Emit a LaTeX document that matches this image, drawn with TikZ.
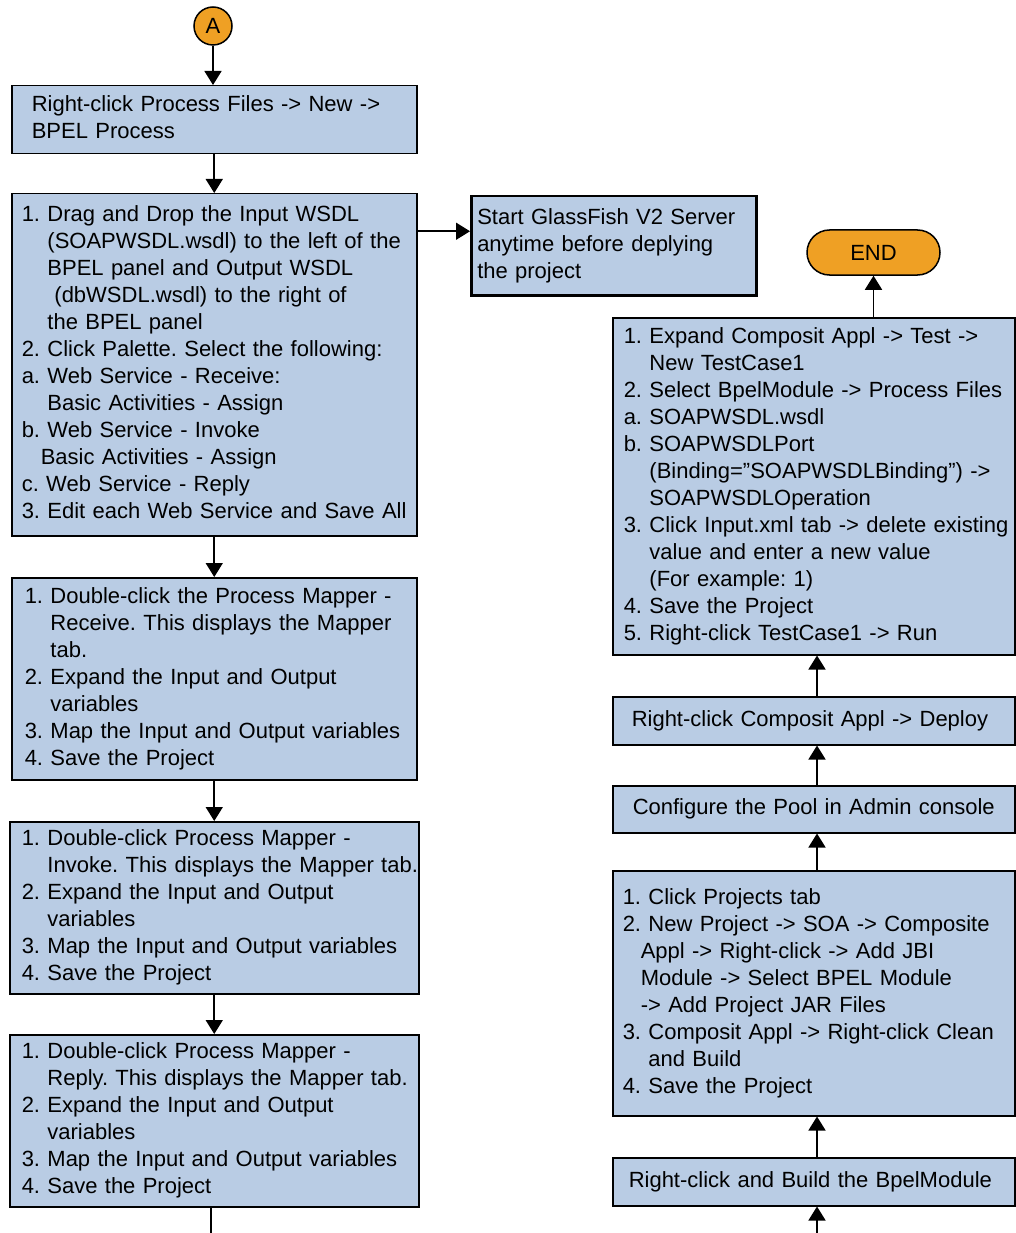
\documentclass[tikz,border=0pt]{standalone}
\usepackage{fontspec}
\setmainfont{Liberation Sans}
\usetikzlibrary{arrows.meta,positioning}
\definecolor{stepblue}{RGB}{185,204,228}
\definecolor{endorange}{RGB}{239,160,36}
% one line per row, rows never wrap
\newcommand{\steplines}[1]{\begin{tabular}{@{}l@{}}#1\end{tabular}}
\newcommand{\ind}{\phantom{1. }}
\frenchspacing

\begin{document}
\begin{tikzpicture}[x=1pt,y=-1pt,
  every node/.style={font=\fontsize{22}{27}\selectfont},
  stepbox/.style={draw,line width=1.5pt,fill=stepblue,anchor=north west,align=left,inner ysep=0pt},
  flow/.style={line width=1.6pt,-{Triangle[length=14pt,width=17pt]}},
  terminal/.style={draw,line width=1.5pt,fill=endorange,inner sep=0pt}]

\useasboundingbox (0,0) rectangle (1015,1233);

% left column
\node [terminal,circle,minimum size=38pt] (a) at (213,26) {A};
\node [stepbox,text width=365pt,inner xsep=20pt,minimum height=68pt] (newbpel) at (11,85)
  {\steplines{Right-click Process Files -> New ->\\BPEL Process}};
\node [stepbox,text width=385pt,inner xsep=10pt,minimum height=342pt] (palette) at (11,193)
  {\steplines{1. Drag and Drop the Input WSDL\\
  \ind(SOAPWSDL.wsdl) to the left of the\\
  \ind BPEL panel and Output WSDL\\
  \ind\hspace{7pt}(dbWSDL.wsdl) to the right of\\
  \ind the BPEL panel\\
  2. Click Palette. Select the following:\\
  a. Web Service - Receive:\\
  \ind Basic Activities - Assign\\
  b. Web Service - Invoke\\
  \hspace{19pt}Basic Activities - Assign\\
  c. Web Service - Reply\\
  3. Edit each Web Service and Save All}};
\node [stepbox,text width=379pt,inner xsep=13pt,minimum height=202pt] (receive) at (11,577)
  {\steplines{1. Double-click the Process Mapper -\\
  \ind Receive. This displays the Mapper\\
  \ind tab.\\
  2. Expand the Input and Output\\
  \ind variables\\
  3. Map the Input and Output variables\\
  4. Save the Project}};
\node [stepbox,text width=385pt,inner xsep=12pt,minimum height=172pt] (invoke) at (9,821)
  {\steplines{1. Double-click Process Mapper -\\
  \ind Invoke. This displays the Mapper tab.\\
  2. Expand the Input and Output\\
  \ind variables\\
  3. Map the Input and Output variables\\
  4. Save the Project}};
\node [stepbox,text width=385pt,inner xsep=12pt,minimum height=172pt] (reply) at (9,1034)
  {\steplines{1. Double-click Process Mapper -\\
  \ind Reply. This displays the Mapper tab.\\
  2. Expand the Input and Output\\
  \ind variables\\
  3. Map the Input and Output variables\\
  4. Save the Project}};
\node [stepbox,line width=2.5pt,text width=273pt,inner xsep=6pt,minimum height=99pt] (server) at (470,195)
  {\steplines{Start GlassFish V2 Server\\anytime before deplying\\the project}};

% right column
\node [terminal,rounded corners=22.5pt,minimum width=133pt,minimum height=45pt] (endnode) at (873.5,252.5) {END};
\node [stepbox,text width=380pt,inner xsep=11pt,minimum height=337pt] (runtest) at (612,317)
  {\steplines{1. Expand Composit Appl -> Test ->\\
  \ind New TestCase1\\
  2. Select BpelModule -> Process Files\\
  a. SOAPWSDL.wsdl\\
  b. SOAPWSDLPort\\
  \ind(Binding=”SOAPWSDLBinding”) ->\\
  \ind SOAPWSDLOperation\\
  3. Click Input.xml tab -> delete existing\\
  \ind value and enter a new value\\
  \ind(For example: 1)\\
  4. Save the Project\\
  5. Right-click TestCase1 -> Run}};
\node [stepbox,text width=364pt,inner xsep=19pt,minimum height=48pt] (deploy) at (612,696)
  {\steplines{Right-click Composit Appl -> Deploy}};
\node [stepbox,text width=362pt,inner xsep=20pt,minimum height=47pt] (pool) at (612,785)
  {\steplines{Configure the Pool in Admin console}};
\node [stepbox,text width=382pt,inner xsep=10pt,minimum height=245pt] (composite) at (612,870)
  {\steplines{1. Click Projects tab\\
  2. New Project -> SOA -> Composite\\
  \hspace{18pt}Appl -> Right-click -> Add JBI\\
  \hspace{18pt}Module -> Select BPEL Module\\
  \hspace{18pt}-> Add Project JAR Files\\
  3. Composit Appl -> Right-click Clean\\
  \ind and Build\\
  4. Save the Project}};
\node [stepbox,text width=370pt,inner xsep=16pt,minimum height=48pt] (build) at (612,1157)
  {\steplines{Right-click and Build the BpelModule}};

\coordinate (leftout) at (211,1233);
\coordinate (rightin) at (817,1233);

% connectors
\draw [flow] (a.south) -- (a.south |- newbpel.north);
\draw [flow] (newbpel) -- (palette);
\draw [flow] ([yshift=14.5pt]server.west -| palette.east) -- ([yshift=14.5pt]server.west);
\draw [flow] (palette) -- (receive);
\draw [flow] (receive) -- (invoke);
\draw [flow] (invoke) -- (reply);
\draw [line width=1.6pt] (reply.south -| leftout) -- (leftout);
\draw [flow] (rightin) -- (rightin |- build.south);
\draw [flow] (build.north -| rightin) -- (rightin |- composite.south);
\draw [flow] (composite.north -| rightin) -- (rightin |- pool.south);
\draw [flow] (pool.north -| rightin) -- (rightin |- deploy.south);
\draw [flow] (deploy.north -| rightin) -- (rightin |- runtest.south);
\draw [flow] (runtest.north -| endnode) -- (endnode.south);
\end{tikzpicture}
\end{document}
